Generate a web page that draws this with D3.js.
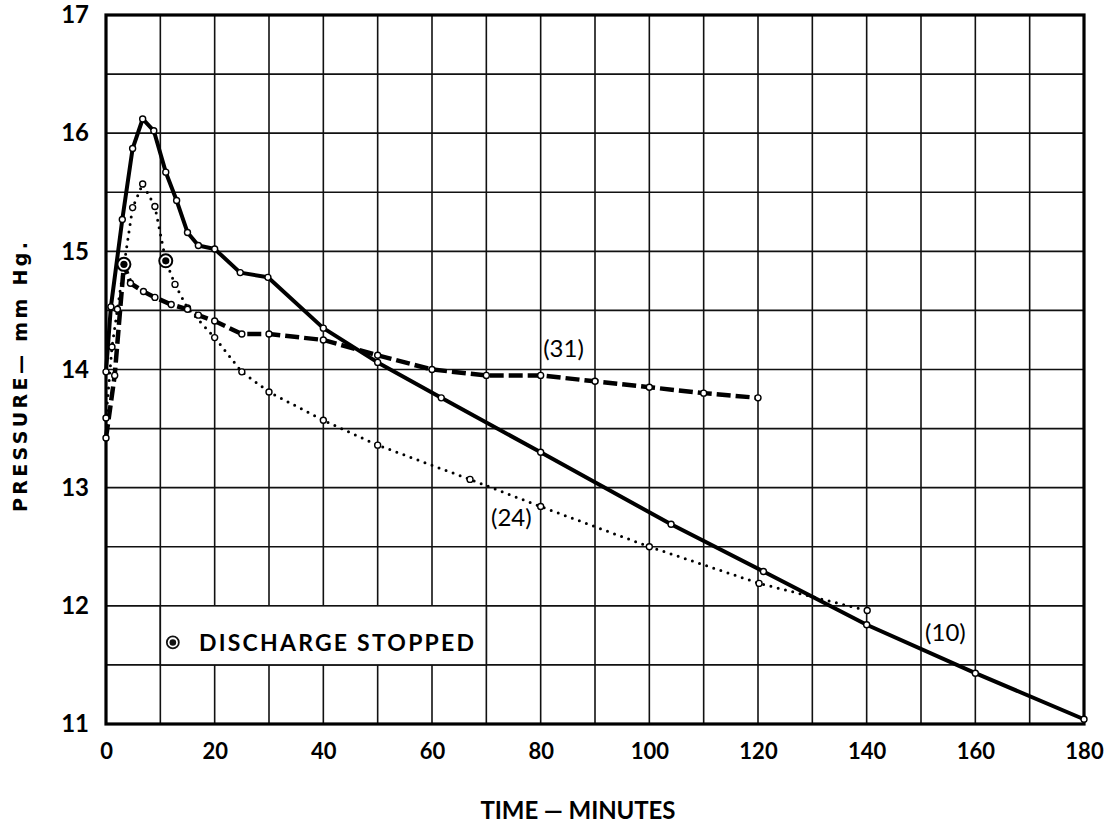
<!DOCTYPE html>
<html><head><meta charset="utf-8">
<script src="https://cdn.jsdelivr.net/npm/d3@7"></script>
<style>body{margin:0;background:#fff} svg{display:block}</style>
</head><body><svg id="c" width="1104" height="823"></svg>
<script>
// ---- data ----
const xTicks = [0, 20, 40, 60, 80, 100, 120, 140, 160, 180];
const yTicks = [11, 12, 13, 14, 15, 16, 17];
// run (10): solid
const run10 = [[0,13.98],[0.9,14.53],[3,15.27],[4.9,15.87],[6.75,16.12],[8.8,16.02],[11,15.67],[13,15.43],[15,15.16],[17,15.05],[20,15.02],[24.7,14.82],[29.8,14.78],[40,14.35],[50,14.06],[61.7,13.76],[80,13.30],[104,12.69],[121,12.29],[140,11.84],[160,11.43],[180,11.04]];
// run (24): dotted
const run24 = [[0,13.59],[1.1,14.19],[2.1,14.51],[4.9,15.37],[6.75,15.57],[9,15.38],[11,14.92],[12.7,14.72],[15,14.52],[20,14.27],[25,13.98],[30,13.81],[40,13.57],[50,13.36],[67,13.07],[80,12.84],[100,12.50],[120.2,12.19],[140.1,11.96]];
// run (31): dashed
const run31 = [[0,13.42],[1.6,13.95],[3.3,14.89],[4.5,14.73],[6.9,14.66],[9,14.61],[12,14.55],[15,14.51],[17,14.46],[20,14.41],[25,14.30],[30,14.30],[40,14.25],[50,14.12],[60,14.0],[70,13.95],[80,13.95],[90,13.90],[100,13.85],[110,13.80],[120,13.76]];
const dischargeStopped = [[3.3,14.89],[11,14.92]];
const runNames = ["(10)", "(24)", "(31)"];
const runLabelAt = [[154.5,11.77],[74.6,12.75],[84.2,14.18]];
const legendText = "DISCHARGE STOPPED";
const xTitle = "TIME \u2014 MINUTES";
const yTitle = "PRESSURE\u2014 mm Hg.";

// ---- chart ----
const W = 1104, H = 823;
const m = {left:106, top:15, right:20, bottom:99};
const svg = d3.select("#c");
const FONT = "Lato, 'Liberation Sans', sans-serif";
const WIDE = "'DejaVu Sans', Lato, sans-serif";
const x = d3.scaleLinear([0,180],[m.left, W-m.right]);
const y = d3.scaleLinear([11,17],[H-m.bottom, m.top]);

// grid
const g = svg.append("g");
g.selectAll("line.v").data(d3.range(10,180,10)).join("line")
  .attr("x1",d=>x(d)).attr("x2",d=>x(d)).attr("y1",y(11)).attr("y2",y(17))
  .attr("stroke","#111").attr("stroke-width",1.6);
g.selectAll("line.h").data(d3.range(11.5,17,0.5)).join("line")
  .attr("y1",d=>y(d)).attr("y2",d=>y(d)).attr("x1",x(0)).attr("x2",x(180))
  .attr("stroke","#111").attr("stroke-width",1.6);

// legend box (white cell covering grid)
svg.append("rect").attr("x",x(10)).attr("y",y(12)).attr("width",x(70)-x(10)).attr("height",y(11.5)-y(12))
  .attr("fill","#fff").attr("stroke","#111").attr("stroke-width",1.6);
const lm = svg.append("g").attr("transform",`translate(${x(12.3)},${y(11.69)})`);
lm.append("circle").attr("r",6).attr("fill","#fff").attr("stroke","#111").attr("stroke-width",1.8);
lm.append("circle").attr("r",3.3).attr("fill","#111");
svg.append("text").attr("x",199).attr("y",y(11.69)).attr("dy","0.36em")
  .attr("font-family",FONT).attr("font-weight",700).attr("font-size",23)
  .attr("textLength",275).attr("lengthAdjust","spacing").text(legendText);

// frame
svg.append("rect").attr("x",x(0)).attr("y",y(17)).attr("width",x(180)-x(0)).attr("height",y(11)-y(17))
  .attr("fill","none").attr("stroke","#000").attr("stroke-width",3.2);

// axes
const xa = svg.append("g").attr("transform",`translate(0,${y(11)})`)
  .call(d3.axisBottom(x).tickValues(xTicks).tickSize(0).tickPadding(19).tickFormat(d3.format("d")));
xa.select(".domain").remove();
xa.selectAll("text").attr("font-family",FONT).attr("font-weight",700).attr("font-size",22).attr("fill","#000");
const ya = svg.append("g").attr("transform",`translate(${x(0)},0)`)
  .call(d3.axisLeft(y).tickValues(yTicks).tickSize(0).tickPadding(17).tickFormat(d3.format("d")));
ya.select(".domain").remove();
ya.selectAll("text").attr("font-family",FONT).attr("font-weight",700).attr("font-size",24).attr("fill","#000");

// titles
svg.append("text").attr("x",578).attr("y",819).attr("text-anchor","middle")
  .attr("font-family",FONT).attr("font-weight",700).attr("font-size",24)
  .attr("textLength",195).attr("lengthAdjust","spacing").text(xTitle);
svg.append("text").attr("transform",`translate(27,377) rotate(-90)`).attr("text-anchor","middle")
  .attr("font-family",WIDE).attr("font-weight",700).attr("font-size",19)
  .attr("textLength",270).attr("lengthAdjust","spacing").text(yTitle);

// lines
const line = d3.line().x(d=>x(d[0])).y(d=>y(d[1]));
svg.append("path").datum(run24).attr("d",line).attr("fill","none").attr("stroke","#000")
  .attr("stroke-width",3).attr("stroke-linecap","round").attr("stroke-dasharray","0,7.5");
svg.append("path").datum(run31).attr("d",line).attr("fill","none").attr("stroke","#000")
  .attr("stroke-width",4.5).attr("stroke-dasharray","14,5");
svg.append("path").datum(run10).attr("d",line).attr("fill","none").attr("stroke","#000")
  .attr("stroke-width",4).attr("stroke-linejoin","round");

// points
const isStop = d => dischargeStopped.some(s => s[0]===d[0] && s[1]===d[1]);
[run10, run24, run31].forEach(run => {
  svg.append("g").selectAll("circle").data(run.filter(d=>!isStop(d))).join("circle")
    .attr("cx",d=>x(d[0])).attr("cy",d=>y(d[1])).attr("r",3)
    .attr("fill","#fff").attr("stroke","#000").attr("stroke-width",1.4);
});
const ds = svg.append("g").selectAll("g").data(dischargeStopped).join("g")
  .attr("transform",d=>`translate(${x(d[0])},${y(d[1])})`);
ds.append("circle").attr("r",6.5).attr("fill","#fff").attr("stroke","#000").attr("stroke-width",2);
ds.append("circle").attr("r",3.6).attr("fill","#000");

// run labels
svg.append("g").selectAll("text").data(runNames).join("text")
  .attr("x",(d,i)=>x(runLabelAt[i][0])).attr("y",(d,i)=>y(runLabelAt[i][1]))
  .attr("dy","0.35em").attr("text-anchor","middle")
  .attr("font-family",FONT).attr("font-weight",400).attr("font-size",24).text(d=>d);
</script></body></html>
